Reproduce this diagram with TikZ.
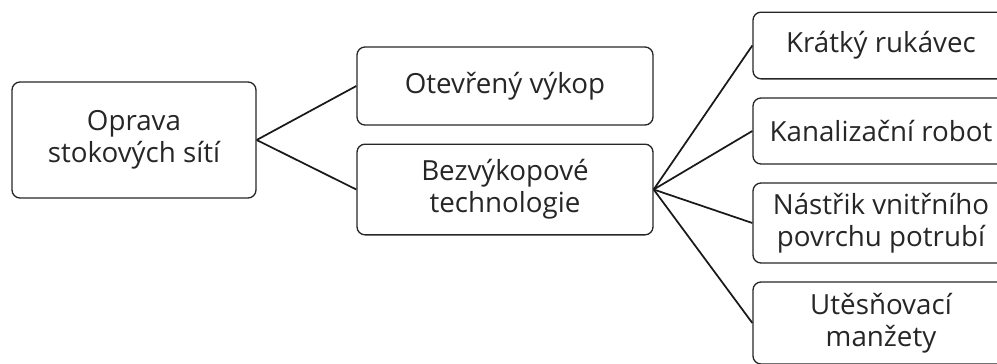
\documentclass[tikz,border=0pt]{standalone}
\usepackage{fontspec}
\setmainfont{Open Sans}
\begin{document}
\begin{tikzpicture}[x=0.75pt,y=-0.75pt,
    box/.style={draw=black!85,line width=1pt,rounded corners=6pt,align=center,
      text=black!85,font=\fontsize{20.8}{24}\selectfont,inner sep=0pt},
    link/.style={draw=black!90,line width=1.3pt}]

          \clip (0,0) rectangle (997,364);
          \useasboundingbox (0,0) rectangle (997,364);

          % levels of the tree
          \node[box,minimum width=183pt,minimum height=87pt] (oprava) at (134,140) {Oprava\\stokových sítí};
          \node[box,minimum width=222pt,minimum height=58.5pt] (vykop) at (505,86) {Otevřený výkop};
          \node[box,minimum width=222pt,minimum height=68pt] (bezvykop) at (505,189.5) {Bezvýkopové\\technologie};

          \node[box,minimum width=192pt,minimum height=50pt] (rukavec) at (881,45.5) {Krátký rukávec};
          \node[box,minimum width=192pt,minimum height=49.5pt] (robot) at (881,131) {Kanalizační robot};
          \node[box,minimum width=192pt,minimum height=60pt] (nastrik) at (881,223) {Nástřik vnitřního\\povrchu potrubí};
          \node[box,minimum width=192pt,minimum height=61.5pt] (manzety) at (881,323) {Utěsňovací\\manžety};

          \draw[link] (oprava.east) -- (vykop.west);
          \draw[link] (oprava.east) -- (bezvykop.west);
          \foreach \leaf in {rukavec,robot,nastrik,manzety}
          {
            \draw[link] (bezvykop.east) -- (\leaf.west);
          }

         \end{tikzpicture}
\end{document}
